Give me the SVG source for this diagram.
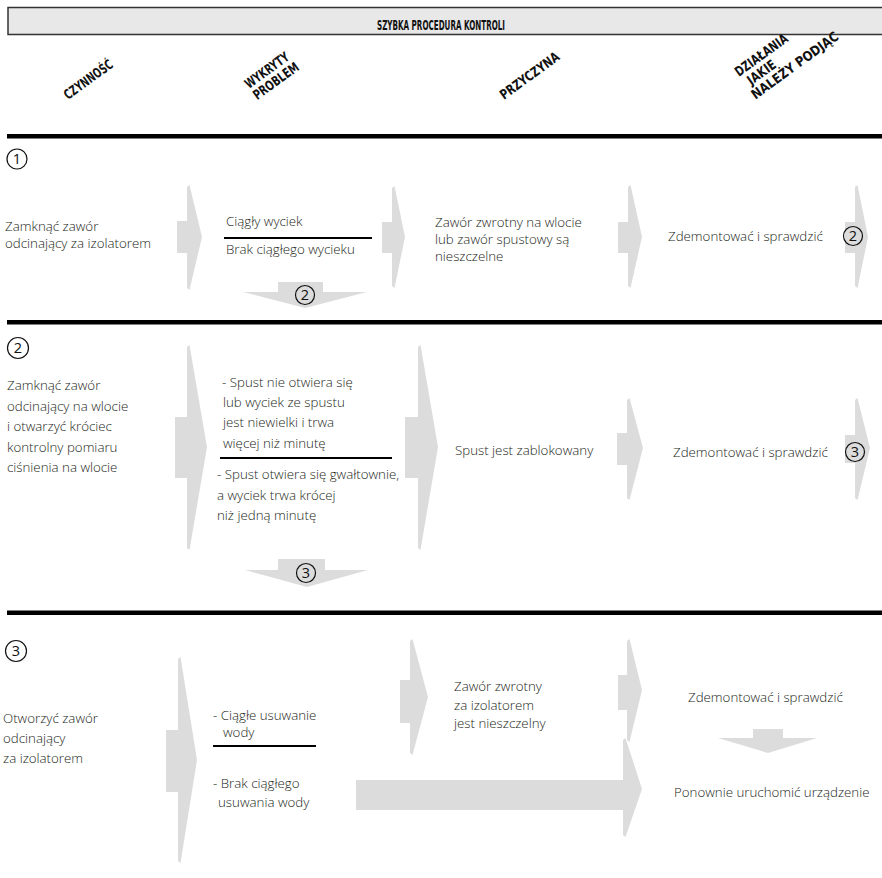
<svg xmlns="http://www.w3.org/2000/svg" width="882" height="878" viewBox="0 0 882 878">
<style>
  .t { font-family: "Open Sans", "Liberation Sans", sans-serif; font-weight: 300; font-size: 13.3px; fill: #231f20; }
  .h { font-family: "Liberation Sans Narrow", "DejaVu Sans Condensed", "Liberation Sans", sans-serif; font-stretch: condensed; font-weight: bold; font-size: 13.5px; fill: #111; }
  .num { font-family: "Open Sans", "Liberation Sans", sans-serif; font-weight: 400; font-size: 14.5px; fill: #111; text-anchor: middle; }
  .c { fill: none; stroke: #111; stroke-width: 1.2; }
  .arr { fill: #dcdcdc; stroke: none; }
  .bar { fill: #000; }
  .sep { stroke: #000; stroke-width: 2; }
</style>

<!-- header -->
<g id="header">
  <rect x="8" y="7.5" width="880" height="27" fill="#e8e8e8" stroke="#333" stroke-width="1.5"/>
  <text class="h" x="441" y="29.5" text-anchor="middle" font-size="14.5" textLength="128" lengthAdjust="spacingAndGlyphs">SZYBKA PROCEDURA KONTROLI</text>
</g>
<g id="col-czynnosc" transform="translate(68,100) rotate(-36)">
  <text class="h" x="0" y="0" textLength="57" lengthAdjust="spacingAndGlyphs">CZYNNOŚĆ</text>
</g>
<g id="col-problem" transform="translate(249,89) rotate(-36)">
  <text class="h" x="0" y="0" textLength="51" lengthAdjust="spacingAndGlyphs">WYKRYTY</text>
  <text class="h" x="0" y="14" textLength="53" lengthAdjust="spacingAndGlyphs">PROBLEM</text>
</g>
<g id="col-przyczyna" transform="translate(504,100) rotate(-36)">
  <text class="h" x="0" y="0" textLength="70" lengthAdjust="spacingAndGlyphs">PRZYCZYNA</text>
</g>
<g id="col-dzialania" transform="translate(739,77) rotate(-36)">
  <text class="h" x="0" y="0" textLength="62" lengthAdjust="spacingAndGlyphs">DZIAŁANIA</text>
  <text class="h" x="5" y="14" textLength="32" lengthAdjust="spacingAndGlyphs">JAKIE</text>
  <text class="h" x="0" y="28" textLength="104" lengthAdjust="spacingAndGlyphs">NALEŻY PODJĄC</text>
</g>

<!-- section bars -->
<rect class="bar" x="7" y="134" width="875" height="4.5"/>
<rect class="bar" x="7" y="320" width="875" height="4.5"/>
<rect class="bar" x="7" y="610.5" width="875" height="4.5"/>

<!-- connectors (grey arrows) -->
<g id="connectors">
  <!-- section 1 -->
  <path class="arr" d="M177,221 H187 V187 L189.5,185 L202,237 L189.5,290 L187,288 V253 H177 Z"/>
  <path class="arr" d="M382,222 H392 V188 L394.5,186 L405,237 L394.5,288 L392,286 V253 H382 Z"/>
  <path class="arr" d="M618,222 H628 V187 L630.5,185 L642,237 L630.5,288 L628,286 V253 H618 Z"/>
  <path class="arr" d="M845,222 H855 V187 L857.5,185 L868,237 L857.5,288 L855,286 V253 H845 Z"/>
  <path class="arr" d="M278,282 H323 V292 H367 L305,308 L243,292 H278 Z"/>
  <!-- section 2 -->
  <path class="arr" d="M175,417 H187 V347 L189.5,345 L207,447 L189.5,550 L187,548 V478 H175 Z"/>
  <path class="arr" d="M405,417 H418 V347 L420.5,345 L438,447 L420.5,550 L418,548 V478 H405 Z"/>
  <path class="arr" d="M617,433 H627 V400 L629.5,398 L643,448 L629.5,500 L627,498 V465 H617 Z"/>
  <path class="arr" d="M845,435 H855 V400 L857.5,398 L870,448 L857.5,500 L855,498 V463 H845 Z"/>
  <path class="arr" d="M278,559 H325 V570 H368 L307,587 L245,570 H278 Z"/>
  <!-- section 3 -->
  <path class="arr" d="M166,730 H178 V659 L180.5,657 L197,760 L180.5,863 L178,861 V792 H166 Z"/>
  <path class="arr" d="M400,680 H410 V641 L412.5,639 L428,697 L412.5,755 L410,753 V723 H400 Z"/>
  <path class="arr" d="M618,675 H627 V641 L629.5,639 L642,690 L629.5,742 L627,740 V710 H618 Z"/>
  <path class="arr" d="M356,780 H623 V740 L625.5,738 L642,789 L625.5,837 L623,835 V810 H356 Z"/>
  <path class="arr" d="M753,729 H783 V738 H817 L768,753 L718,738 H753 Z"/>
</g>

<!-- section 1 -->
<g id="s1-num"><circle class="c" cx="17" cy="159" r="10"/><text class="num" x="17" y="164">1</text></g>
<g id="s1-action">
  <text class="t" x="5" y="231">Zamknąć zawór</text>
  <text class="t" x="5" y="248">odcinający za izolatorem</text>
</g>
<g id="s1-problem">
  <text class="t" x="226" y="226">Ciągły wyciek</text>
  <line class="sep" x1="224" y1="238" x2="372" y2="238"/>
  <text class="t" x="226" y="254">Brak ciągłego wycieku</text>
</g>
<g id="s1-goto2"><circle class="c" cx="305" cy="295" r="9.5"/><text class="num" x="305" y="300">2</text></g>
<g id="s1-cause">
  <text class="t" x="435" y="227">Zawór zwrotny na wlocie</text>
  <text class="t" x="435" y="244">lub zawór spustowy są</text>
  <text class="t" x="435" y="261">nieszczelne</text>
</g>
<g id="s1-remedy">
  <text class="t" x="668" y="241">Zdemontować i sprawdzić</text>
</g>
<g id="s1-goto2b"><circle class="c" cx="853" cy="236" r="9.5"/><text class="num" x="853" y="241">2</text></g>

<!-- section 2 -->
<g id="s2-num"><circle class="c" cx="18" cy="348" r="10.5"/><text class="num" x="18" y="353">2</text></g>
<g id="s2-action">
  <text class="t" x="7" y="390">Zamknąć zawór</text>
  <text class="t" x="7" y="411">odcinający na wlocie</text>
  <text class="t" x="7" y="431">i otwarzyć króciec</text>
  <text class="t" x="7" y="452">kontrolny pomiaru</text>
  <text class="t" x="7" y="472">ciśnienia na wlocie</text>
</g>
<g id="s2-problem">
  <text class="t" x="222" y="387">- Spust nie otwiera się</text>
  <text class="t" x="223" y="407">lub wyciek ze spustu</text>
  <text class="t" x="223" y="427">jest niewielki i trwa</text>
  <text class="t" x="223" y="448">więcej niż minutę</text>
  <line class="sep" x1="220" y1="458" x2="392" y2="458"/>
  <text class="t" x="217" y="479">- Spust otwiera się gwałtownie,</text>
  <text class="t" x="217" y="500">a wyciek trwa krócej</text>
  <text class="t" x="217" y="520">niż jedną minutę</text>
</g>
<g id="s2-goto3"><circle class="c" cx="306" cy="573" r="9.5"/><text class="num" x="306" y="578">3</text></g>
<g id="s2-cause">
  <text class="t" x="455" y="455">Spust jest zablokowany</text>
</g>
<g id="s2-remedy">
  <text class="t" x="673" y="457">Zdemontować i sprawdzić</text>
</g>
<g id="s2-goto3b"><circle class="c" cx="855" cy="452" r="9.5"/><text class="num" x="855" y="457">3</text></g>

<!-- section 3 -->
<g id="s3-num"><circle class="c" cx="16" cy="651" r="10.5"/><text class="num" x="16" y="656">3</text></g>
<g id="s3-action">
  <text class="t" x="3" y="723">Otworzyć zawór</text>
  <text class="t" x="3" y="743">odcinający</text>
  <text class="t" x="3" y="763">za izolatorem</text>
</g>
<g id="s3-problem">
  <text class="t" x="213" y="720">- Ciągłe usuwanie</text>
  <text class="t" x="223" y="737">wody</text>
  <line class="sep" x1="213" y1="746" x2="316" y2="746"/>
  <text class="t" x="213" y="788">- Brak ciągłego</text>
  <text class="t" x="218" y="807">usuwania wody</text>
</g>
<g id="s3-cause">
  <text class="t" x="454" y="691">Zawór zwrotny</text>
  <text class="t" x="454" y="710">za izolatorem</text>
  <text class="t" x="454" y="728">jest nieszczelny</text>
</g>
<g id="s3-remedy">
  <text class="t" x="688" y="702">Zdemontować i sprawdzić</text>
</g>
<g id="s3-restart">
  <text class="t" x="674" y="797">Ponownie uruchomić urządzenie</text>
</g>
</svg>
